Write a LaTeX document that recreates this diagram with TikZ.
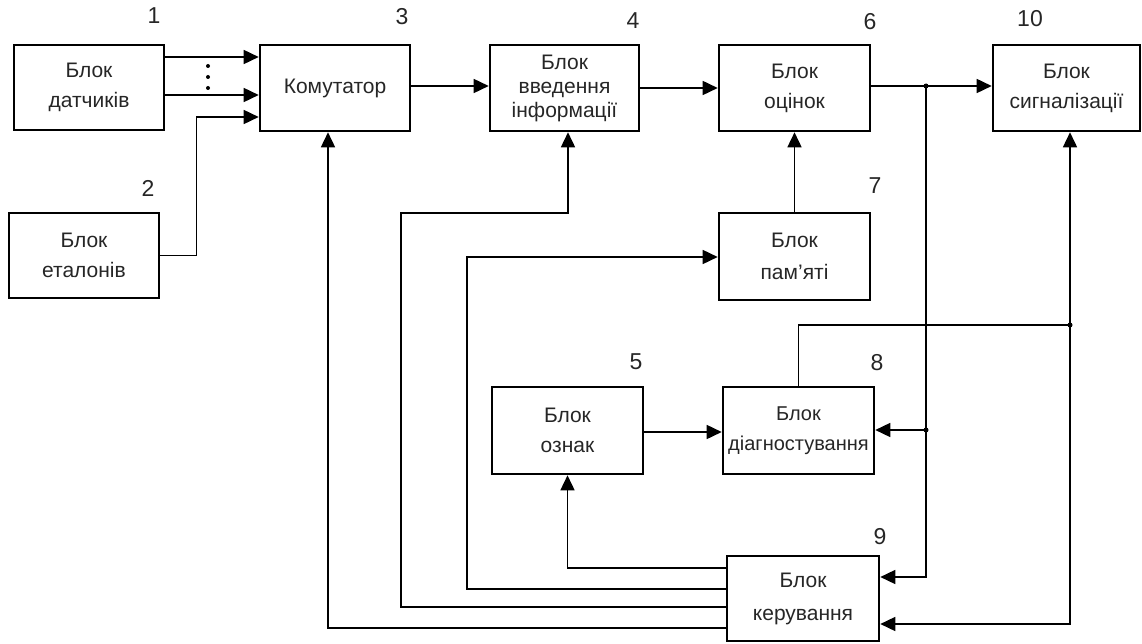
\documentclass[tikz,border=0pt]{standalone}
\usepackage{fontspec}
\setmainfont{Liberation Sans}
\usetikzlibrary{arrows.meta}
\begin{document}
\begin{tikzpicture}[x=1pt,y=-1pt,
  blk/.style={draw, line width=2.6pt, inner sep=0pt, align=center,
    font=\fontsize{21}{30}\selectfont, text=black!85},
  num/.style={font=\fontsize{23}{26}\selectfont, text=black!85},
  arr/.style={line width=1.6pt, -{Triangle[length=15pt,width=14pt]}},
  ln/.style={line width=1.6pt},
  jdot/.style={circle, fill=black, inner sep=0pt, minimum size=5pt}]
\useasboundingbox (0,0) rectangle (1142,644);
% boxes
\node[blk, minimum width=150pt, minimum height=85pt] (b1) at (89,87.5) {Блок\\датчиків};
\node[blk, minimum width=150pt, minimum height=85pt] (b2) at (84,255.5) {Блок\\еталонів};
\node[blk, minimum width=150pt, minimum height=86pt] (b3) at (335,88) {Комутатор};
\node[blk, minimum width=149pt, minimum height=86pt, font=\fontsize{21}{24}\selectfont] (b4) at (564.5,88) {Блок\\введення\\інформації};
\node[blk, minimum width=151pt, minimum height=86pt] (b6) at (794.5,88) {Блок\\оцінок};
\node[blk, minimum width=147pt, minimum height=86pt] (b10) at (1066.5,88) {Блок\\сигналізації};
\node[blk, minimum width=151pt, minimum height=87pt, font=\fontsize{21}{32}\selectfont] (b7) at (794.5,256.5) {Блок\\пам'яті};
\node[blk, minimum width=151pt, minimum height=87pt] (b5) at (567.5,430.5) {Блок\\ознак};
\node[blk, minimum width=151pt, minimum height=87pt, font=\fontsize{20}{30}\selectfont] (b8) at (798.5,430.5) {Блок\\діагностування};
\node[blk, minimum width=152pt, minimum height=85pt, font=\fontsize{21}{33}\selectfont] (b9) at (803,598.5) {Блок\\керування};
% numbers
\node[num] (n1) at (154,16) {1};
\node[num] (n2) at (148,188) {2};
\node[num] (n3) at (402,17) {3};
\node[num] (n4) at (633,21) {4};
\node[num] (n6) at (870,22) {6};
\node[num] (n10) at (1030,19) {10};
\node[num] (n7) at (875,186) {7};
\node[num] (n5) at (636,362) {5};
\node[num] (n8) at (877,363) {8};
\node[num] (n9) at (880,537) {9};
% dots between the sensor lines
\fill (208,66) circle (2pt) (208,77) circle (2pt) (208,88) circle (2pt);
% junctions
\coordinate (j1) at (926,86);
\coordinate (j2) at (926,430);
\coordinate (j3) at (1070,325);
% connectors
\draw[arr] (b1.east |- 0,57) -- (b3.west |- 0,57);
\draw[arr] (b1.east |- 0,95) -- (b3.west |- 0,95);
\draw[arr] (b2.east) -- ++(36,0) |- (b3.west |- 0,117);
\draw[arr] (b3.east |- 0,86) -- (b4.west |- 0,86);
\draw[arr] (b4.east |- 0,88) -- (b6.west |- 0,88);
\draw[arr] (b6.east |- j1) -- (b10.west |- j1);
\draw[arr] (b7.north) -- (b6.south);
\draw[arr] (b5.east |- 0,432) -- (b8.west |- 0,432);
\draw[arr] (j1) |- (b9.east |- 0,577);
\draw[arr] (j2) -- (b8.east |- j2);
\draw[ln] (b8.north) |- (j3);
\draw[arr] (j3) -- (j3 |- b10.south);
\draw[arr] (j3) |- (b9.east |- 0,624);
\draw[arr] (b9.west |- 0,568) -| (b5.south);
\draw[arr] (b9.west |- 0,589) -| (467,257) -- (b7.west |- 0,257);
\draw[arr] (b9.west |- 0,607) -| (401,213) -| ([xshift=3.5pt]b4.south);
\draw[arr] (b9.west |- 0,628) -| ([xshift=-7pt]b3.south);
\node[jdot] (d1) at (j1) {};
\node[jdot] (d2) at (j2) {};
\node[jdot] (d3) at (j3) {};
\end{tikzpicture}
\end{document}
